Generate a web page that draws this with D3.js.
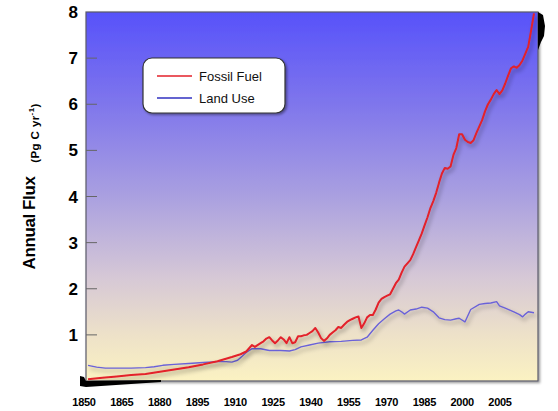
<!DOCTYPE html>
<html><head><meta charset="utf-8">
<script src="https://cdn.jsdelivr.net/npm/d3@7"></script>
<style>
html,body{margin:0;padding:0;background:#fff;}
svg{display:block;font-family:"Liberation Sans",Arial,sans-serif;}
</style></head>
<body>
<svg id="chart" width="558" height="411"></svg>
<script>
// ---- data ----
const xTickLabels = ["1850","1865","1880","1895","1910","1925","1940","1955","1970","1985","2000","2005"];
const yTicks = [1,2,3,4,5,6,7,8];
const seriesNames = ["Fossil Fuel","Land Use"];

const fossilYears = [1850,1855,1860,1865,1870,1875,1880,1885,1890,1895,1900,1903,1905,1907,1908,
 1910,1911,1912,1913,1914,1915,1916,1917,1918,1919,1920,1921,1922,1923,1924,1925,1926,1927,1928,1929,
 1930,1931,1932,1933,1934,1935,1936,1937,1938,1939,1940,1941,1942,1943,1944,1945,1946,1947,1948,1949,
 1950,1951,1952,1953,1954,1955,1956,1957,1958,1959,1960,1961,1962,1963,1964,1965,1966,1967,1968,1969,
 1970,1971,1972,1973,1974,1975,1976,1977,1978,1979,1980,1981,1982,1983,1984,1985,1986,1987,1988,1989,
 1990,1991,1992,1993,1994,1995,1996,1997,1998,1999,2000,2001,2002,2003,2004,2005];
const fossilValues = [0.04,0.07,0.10,0.13,0.15,0.20,0.25,0.30,0.36,0.43,0.52,0.58,0.64,0.78,0.74,
 0.82,0.86,0.92,0.95,0.88,0.82,0.88,0.95,0.90,0.82,0.95,0.82,0.84,0.97,0.97,0.99,1.00,1.04,1.08,1.15,
 1.05,0.93,0.87,0.92,1.00,1.05,1.10,1.17,1.15,1.22,1.28,1.32,1.35,1.38,1.40,1.15,1.25,1.38,1.43,1.43,
 1.55,1.70,1.78,1.82,1.85,1.88,2.00,2.12,2.20,2.35,2.48,2.55,2.62,2.75,2.90,3.05,3.20,3.38,3.55,3.75,
 3.90,4.08,4.30,4.50,4.62,4.60,4.65,4.90,5.05,5.35,5.35,5.23,5.18,5.16,5.22,5.38,5.52,5.66,5.85,6.00,
 6.10,6.22,6.31,6.22,6.30,6.45,6.62,6.78,6.82,6.79,6.85,6.95,7.10,7.25,7.60,7.97];

const landYears = [1850,1853,1856,1860,1865,1870,1873,1876,1880,1885,1890,1895,1898,1900,1902,1905,1907,
 1910,1913,1917,1920,1922,1924,1927,1930,1934,1938,1942,1945,1947,1949,1951,1953,1955,1957,1958,1959,
 1960,1962,1964,1966,1968,1970,1972,1974,1976,1978,1979,1981,1983,1986,1988,1990,1992,1993,1995,1998,
 2000,2001,2002,2003,2005];
const landValues = [0.34,0.30,0.28,0.28,0.28,0.29,0.31,0.34,0.36,0.38,0.40,0.42,0.42,0.41,0.45,0.62,0.70,
 0.70,0.66,0.66,0.65,0.68,0.74,0.78,0.82,0.85,0.86,0.88,0.89,0.95,1.10,1.24,1.35,1.45,1.52,1.54,1.50,
 1.45,1.54,1.56,1.60,1.58,1.50,1.37,1.33,1.32,1.35,1.36,1.28,1.55,1.66,1.68,1.69,1.72,1.63,1.58,1.50,
 1.44,1.39,1.45,1.50,1.48];

// ---- layout ----
const svg = d3.select("#chart");
const L = 86, R = 538, T = 12, B = 381;
const x = d3.scaleLinear().domain([1850, 2005]).range([88, 534]);
const xLab = d3.scalePoint().domain(xTickLabels).range([84, 500]);
const y = d3.scaleLinear().domain([0, 8]).range([B, T]);

const defs = svg.append("defs");
const grad = defs.append("linearGradient").attr("id","bg").attr("x1",0).attr("y1",0).attr("x2",0).attr("y2",1);
[[0,"#5752fa"],[0.25,"#7f76ec"],[0.5,"#aaa0e0"],[0.72,"#d6c8d6"],[0.88,"#eee2c8"],[1,"#fbf2c2"]]
 .forEach(([o,c])=>grad.append("stop").attr("offset",o).attr("stop-color",c));
const sh = defs.append("filter").attr("id","shadow").attr("x","-20%").attr("y","-20%").attr("width","140%").attr("height","140%");
sh.append("feDropShadow").attr("dx",2).attr("dy",3).attr("stdDeviation",2)
  .attr("flood-color","#000").attr("flood-opacity",0.35);
const sh2 = defs.append("filter").attr("id","shadow2").attr("x","-20%").attr("y","-20%").attr("width","140%").attr("height","140%");
sh2.append("feDropShadow").attr("dx",1.5).attr("dy",1.5).attr("stdDeviation",1.2)
  .attr("flood-color","#000").attr("flood-opacity",0.4);

// plot background
svg.append("rect").attr("x",L).attr("y",T).attr("width",R-L).attr("height",B-T)
  .attr("fill","url(#bg)").attr("stroke","#5a5a6a").attr("stroke-width",1.2)
  .attr("filter","url(#shadow2)");

// decorative dark artifacts at corners
svg.append("path").attr("fill","#000")
  .attr("d",`M${L-6},${B-5} L${L-2},${B-4} L${L},${B} L${L+75},${B-1} L${L+75},${B+1} L${L+30},${B+4} L${L},${B+6} L${L-6},${B+5} Z`);
svg.append("path").attr("fill","#000")
  .attr("d",`M${R},${T} L${R+5},${T+3} L${R+7},${T+14} L${R+6},${T+24} L${R+3},${T+30} L${R},${T+38} Z`);

// y ticks
svg.append("g").selectAll("line").data(yTicks.filter(d=>d<8)).join("line")
  .attr("x1",L).attr("x2",L+11).attr("y1",d=>y(d)).attr("y2",d=>y(d))
  .attr("stroke","#666").attr("stroke-width",1);
svg.append("g").selectAll("text").data(yTicks).join("text")
  .attr("x",78).attr("y",d=>y(d)).attr("dy","0.36em").attr("text-anchor","end")
  .attr("font-size",17).attr("font-weight","bold").attr("fill","#000").text(d=>d);

// x tick labels
svg.append("g").selectAll("text").data(xTickLabels).join("text")
  .attr("x",d=>xLab(d)).attr("y",406).attr("text-anchor","middle")
  .attr("font-size",11).attr("font-weight","bold").attr("fill","#000")
  .attr("letter-spacing","-0.3").text(d=>d);

// y axis title
svg.append("text").attr("transform","translate(35,223) rotate(-90)")
  .attr("text-anchor","middle").attr("font-size",17).attr("font-weight","bold")
  .attr("letter-spacing","-0.4").text("Annual Flux");
const unit = svg.append("text").attr("transform","translate(39,133) rotate(-90)")
  .attr("text-anchor","middle").attr("font-size",11.5).attr("font-weight","bold")
  .attr("letter-spacing","0.4");
unit.append("tspan").text("(Pg C yr");
unit.append("tspan").attr("dy",-5).attr("font-size",8).text("-1");
unit.append("tspan").attr("dy",5).text(")");

// lines
const line = d3.line().x(d=>x(d[0])).y(d=>y(d[1]));
svg.append("path").datum(d3.zip(landYears, landValues))
  .attr("d",line).attr("fill","none").attr("stroke","#6a62d8").attr("stroke-width",1.4)
  .attr("stroke-linejoin","round").attr("filter","url(#shadow)");
svg.append("path").datum(d3.zip(fossilYears, fossilValues))
  .attr("d",line).attr("fill","none").attr("stroke","#e3202a").attr("stroke-width",2)
  .attr("stroke-linejoin","round").attr("filter","url(#shadow)");

// legend
const lg = svg.append("g");
lg.append("rect").attr("x",143).attr("y",58).attr("width",142).attr("height",55).attr("rx",9)
  .attr("fill","#fff").attr("stroke","#333").attr("stroke-width",1.2).attr("filter","url(#shadow2)");
const legColors = ["#e3202a","#3030c0"];
seriesNames.forEach((n,i)=>{
  const yy = 76 + i*22;
  lg.append("line").attr("x1",157).attr("x2",192).attr("y1",yy).attr("y2",yy)
    .attr("stroke",legColors[i]).attr("stroke-width",1.3);
  lg.append("text").attr("x",199).attr("y",yy).attr("dy","0.36em")
    .attr("font-size",13).attr("fill","#111").text(n);
});
</script>
</body></html>
